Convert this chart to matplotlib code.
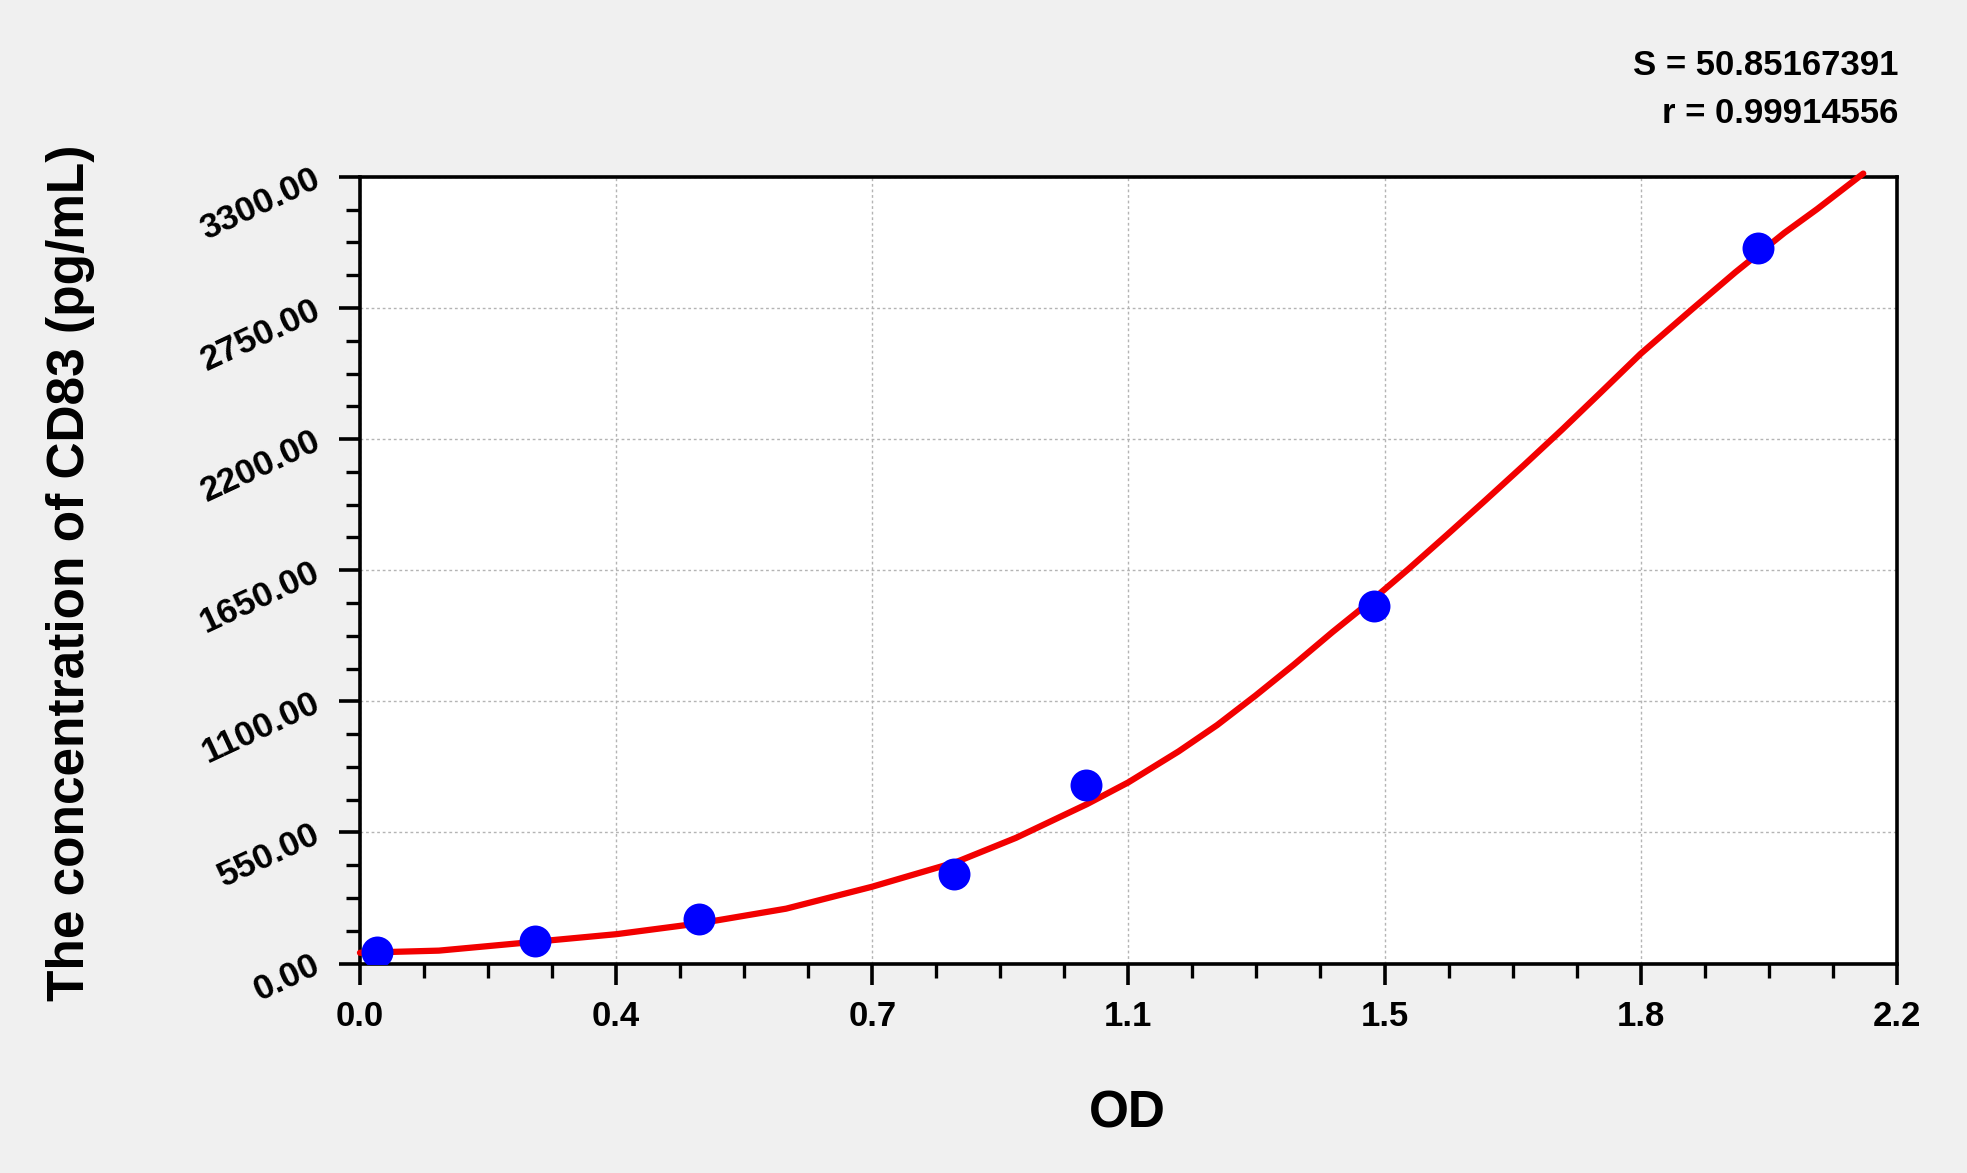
# Standard curve: CD83 concentration vs OD
import numpy as np
import matplotlib.pyplot as plt

# measured standards (OD, pg/mL)
od = [0.025, 0.25, 0.486, 0.851, 1.040, 1.452, 2.002]
conc = [46.88, 93.75, 187.5, 375.0, 750.0, 1500.0, 3000.0]

# fitted curve
curve_od = [0.0, 0.113, 0.25, 0.367, 0.487, 0.61, 0.733, 0.853, 0.939, 1.041,
            1.1, 1.172, 1.227, 1.282, 1.337, 1.392, 1.447, 1.501, 1.556, 1.611,
            1.666, 1.721, 1.776, 1.833, 1.907, 1.969, 2.039, 2.086, 2.152]
curve_conc = [45, 54, 91, 123, 169, 230, 322, 425, 527, 669,
              760, 890, 1000, 1124, 1254, 1390, 1520, 1655, 1798, 1943,
              2090, 2240, 2395, 2557, 2745, 2900, 3065, 3165, 3314]

x_labels = ['0.0', '0.4', '0.7', '1.1', '1.5', '1.8', '2.2']
y_labels = ['0.00', '550.00', '1100.00', '1650.00', '2200.00', '2750.00', '3300.00']
s_text = 'S = 50.85167391'
r_text = 'r = 0.99914556'

plt.rcParams['font.family'] = ['Liberation Sans', 'DejaVu Sans']
plt.rcParams['font.weight'] = 'bold'

fig = plt.figure(figsize=(19.67, 11.73), dpi=100, facecolor='#f0f0f0')
ax = fig.add_axes([0.183, 0.1786, 0.7813, 0.6706])
ax.set_facecolor('white')

# grid
ax.set_xlim(0, 2.2)
ax.set_ylim(0, 3300)
ax.set_xticks(np.linspace(0, 2.2, 7))
ax.set_xticks(np.linspace(0, 2.2, 25), minor=True)
ax.set_yticks(np.linspace(0, 3300, 7))
ax.set_yticks(np.linspace(0, 3300, 25), minor=True)
ax.grid(True, which='major', color='#b4b4b4', linestyle=(0, (2, 2)), linewidth=1.0)
ax.set_axisbelow(True)

# curve and points
ax.plot(curve_od, curve_conc, color='#f20000', linewidth=4.5, clip_on=False,
        zorder=3, solid_joinstyle='round', solid_capstyle='round')
ax.plot(od, conc, 'o', color='#0000ff', markersize=23, markeredgewidth=0, zorder=4)

for s in ax.spines.values():
    s.set_linewidth(2.6)
    s.set_color('black')

ax.tick_params(which='major', direction='out', length=15, width=2.6, colors='black')
ax.tick_params(which='minor', direction='out', length=10, width=2.4, colors='black')
ax.tick_params(axis='x', which='major', pad=11)
ax.tick_params(axis='y', which='major', pad=15)
ax.set_xticklabels(x_labels, fontweight='bold', fontsize=25)
ax.set_yticklabels(y_labels, fontweight='bold', fontsize=25.5,
                   rotation=25, rotation_mode='anchor', ha='right', va='center')

# axis titles
fig.text(0.573, 0.050, 'OD', fontsize=37, fontweight='bold', ha='center', va='center')
fig.text(0.036, 0.512, 'The concentration of CD83 (pg/mL)', fontsize=37,
         fontweight='bold', rotation=90, ha='center', va='center')

# fit statistics
fig.text(0.965, 0.944, s_text, fontsize=25, fontweight='bold', ha='right', va='center')
fig.text(0.965, 0.903, r_text, fontsize=25, fontweight='bold', ha='right', va='center')

fig.savefig('out.png', dpi=100, facecolor=fig.get_facecolor())
